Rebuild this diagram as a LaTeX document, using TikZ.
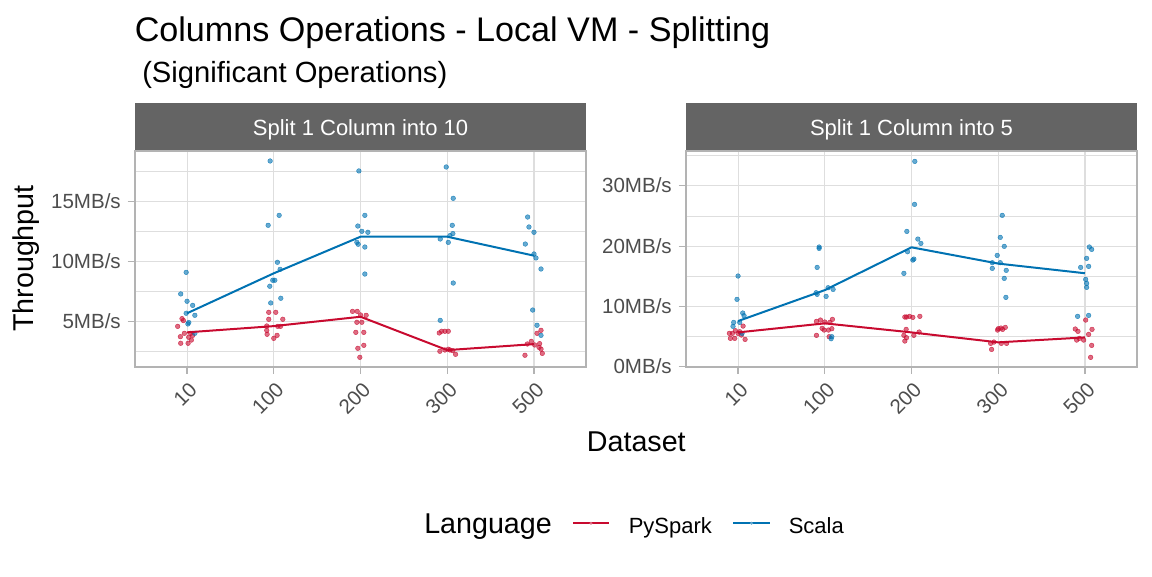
\documentclass[tikz,border=0pt]{standalone}
\usepackage{fontspec}
\setmainfont{Liberation Sans}
\usetikzlibrary{calc}
\definecolor{pyspark}{HTML}{C80A2F}
\definecolor{scala}{HTML}{0072B2}
\definecolor{stripgrey}{HTML}{646464}
\definecolor{gridgrey}{HTML}{DEDEDE}
\definecolor{framegrey}{HTML}{B3B3B3}
\definecolor{textgrey}{HTML}{4D4D4D}
\tikzset{
  major/.style={gridgrey, line width=0.8pt},
  minor/.style={gridgrey, line width=0.5pt},
  frameline/.style={framegrey, line width=1.1pt},
  tickline/.style={framegrey, line width=0.9pt},
  pts/.style={only marks, mark=*, mark size=1.75pt,
    mark options={fill=#1, fill opacity=0.6, draw opacity=0.8, line width=0.3pt}},
  meanline/.style={line width=1.5pt},
  ylab/.style={anchor=base east, inner sep=0pt, text=textgrey, font=\fontsize{15.4pt}{18pt}\selectfont},
  xlab/.style={anchor=north east, inner sep=0pt, rotate=45, text=textgrey, font=\fontsize{15.4pt}{18pt}\selectfont},
  striptext/.style={anchor=base, inner sep=0pt, text=white, font=\fontsize{16.5pt}{20pt}\selectfont},
  axtitle/.style={inner sep=0pt, font=\fontsize{21.5pt}{25pt}\selectfont},
  legtext/.style={anchor=base west, inner sep=0pt, font=\fontsize{16.5pt}{20pt}\selectfont}
}
\begin{document}
\begin{tikzpicture}[x=0.75pt, y=-0.75pt]
\useasboundingbox (0,0) rectangle (1152,576);
%titles
\node[anchor=base west, inner sep=0pt, font=\fontsize{25.6pt}{30pt}\selectfont] (title) at (134.5,41) {Columns Operations - Local VM - Splitting};
\node[anchor=base west, inner sep=0pt, font=\fontsize{21.9pt}{26pt}\selectfont] (subtitle) at (142,82.5) {(Significant Operations)};
%strips
\fill[stripgrey] (135,103) rectangle (586,151);
\fill[stripgrey] (686,103) rectangle (1137,151);
\node[striptext] (strip10) at (360.5,135.5) {Split 1 Column into 10};
\node[striptext] (strip5) at (911.5,135.5) {Split 1 Column into 5};

%panel 1: 10 columns
\begin{scope}[shift={(100.31,381.3)}, x={(65.05pt,0pt)}, y={(0pt,9pt)}]
\foreach \v in {2.5,7.5,12.5,17.5} \draw[minor] (0.4,\v) -- (5.6,\v);
\foreach \v in {5,10,15} \draw[major] (0.4,\v) -- (5.6,\v);
\foreach \i in {1,...,5} \draw[major] (\i,1.192) -- (\i,19.19);
\draw[pyspark, pts=pyspark] plot coordinates {
 (0.942,5.22) (0.958,5.06) (0.892,4.58) (0.969,4.0) (1.042,4.0) (1.065,3.83) (0.923,3.72) (1.019,3.67) (1.05,3.44) (0.927,3.17) (1.012,3.17)
 (1.942,5.75) (2.023,5.75) (1.942,5.17) (2.104,5.17) (1.919,4.61) (2.046,4.58) (2.077,4.58) (1.919,4.25) (1.923,3.92) (2.038,3.83) (2.0,3.58)
 (2.908,5.83) (2.962,5.83) (3.0,5.53) (3.065,5.5) (2.958,4.92) (3.015,4.92) (2.946,4.08) (3.038,4.08) (3.038,3.0) (2.969,2.75) (2.992,2.0)
 (3.908,4.03) (3.935,4.17) (3.973,4.17) (4.012,4.17) (3.915,2.5) (3.973,2.61) (4.031,2.61) (4.062,2.56) (4.096,2.25) (4.012,2.67)
 (4.896,2.17) (4.969,3.33) (5.035,4.0) (5.081,4.25) (5.008,3.03) (5.065,3.14) (5.081,2.69) (5.096,2.33) (4.923,3.11) (5.058,2.83)};
\draw[scala, pts=scala] plot coordinates {
 (0.927,7.28) (0.99,9.08) (1.0,6.67) (1.065,6.33) (1.09,5.5) (0.99,5.67) (1.01,4.78) (1.02,4.9) (1.09,4.0)
 (1.958,18.36) (1.935,13.0) (2.062,13.83) (2.042,9.92) (2.073,9.33) (1.988,8.42) (2.012,8.42) (1.954,7.92) (1.965,6.53) (2.081,6.92)
 (2.981,17.53) (3.05,13.83) (2.969,12.94) (3.015,12.5) (3.085,12.42) (2.958,11.58) (2.973,11.42) (3.05,11.19) (3.05,8.94)
 (3.988,17.86) (4.069,15.25) (4.058,13.0) (4.065,12.31) (4.031,12.14) (3.919,11.86) (4.012,11.58) (4.069,8.19) (3.919,5.08)
 (4.927,13.69) (4.942,12.86) (5.0,12.42) (4.9,11.44) (5.0,10.61) (5.023,10.28) (5.081,9.36) (4.985,5.94) (5.035,4.67) (5.081,3.83)};
\draw[pyspark, meanline] plot coordinates {(1,4.08) (2,4.6) (3,5.38) (4,2.6) (5,3.1)}; %pyspark
\draw[scala, meanline] plot coordinates {(1,5.67) (2,9.0) (3,12.05) (4,12.05) (5,10.47)}; %scala
\end{scope}
\draw[frameline] (135,151) rectangle (586,367);

%panel 2: 5 columns
\begin{scope}[shift={(651.31,366.7)}, x={(65.05pt,0pt)}, y={(0pt,4.5225pt)}]
\foreach \v in {5,15,25,35} \draw[minor] (0.4,\v) -- (5.6,\v);
\foreach \v in {10,20,30} \draw[major] (0.4,\v) -- (5.6,\v);
\foreach \i in {1,...,5} \draw[major] (\i,0) -- (\i,35.77);
\draw[pyspark, pts=pyspark] plot coordinates {
 (0.9,5.53) (0.969,5.97) (1.019,5.8) (1.058,6.74) (0.912,4.7) (0.962,4.7) (1.081,4.53) (1.038,5.25) (1.0,5.53) (0.935,5.53)
 (1.904,7.52) (1.95,7.74) (2.0,7.41) (2.058,7.35) (2.088,7.85) (1.969,6.36) (1.992,6.08) (2.042,6.08) (2.081,6.3) (1.904,5.2) (2.05,4.98)
 (2.923,8.24) (2.942,8.24) (2.977,8.35) (3.015,8.18) (3.096,8.35) (2.938,6.19) (2.912,5.2) (2.942,4.81) (2.923,4.26) (3.027,5.2) (3.088,5.75)
 (4.0,6.3) (4.031,6.41) (4.081,6.52) (4.05,6.19) (3.912,3.87) (3.95,4.09) (4.035,3.87) (4.096,3.87) (3.923,2.87) (3.992,6.08)
 (5.008,7.74) (4.888,6.25) (4.919,5.86) (5.081,6.19) (5.042,5.36) (4.904,4.42) (4.985,4.42) (5.077,3.54) (5.065,1.55) (4.935,4.7)};
\draw[scala, pts=scala] plot coordinates {
 (1.0,15.04) (0.988,11.17) (1.054,8.9) (1.069,8.46) (0.95,7.35) (1.019,7.35) (0.942,6.69) (1.046,5.53)
 (1.935,19.85) (1.935,19.62) (1.912,16.47) (1.9,12.27) (1.912,12.0) (2.038,13.1) (2.096,12.82) (2.015,11.66) (2.081,4.98) (2.073,4.64)
 (3.038,34.05) (3.035,26.92) (2.946,22.44) (3.073,21.17) (3.108,20.45) (2.954,19.07) (3.015,17.69) (3.027,17.85) (2.912,15.48)
 (4.046,25.1) (4.023,21.45) (4.069,19.96) (3.988,18.46) (4.023,17.25) (3.931,17.25) (3.931,16.31) (4.092,15.98) (4.069,14.65) (4.088,11.5)
 (5.05,19.85) (5.077,19.46) (5.019,17.97) (4.95,16.47) (5.042,16.64) (5.008,14.48) (5.019,13.82) (5.019,13.16) (5.042,8.51) (4.915,8.35)};
\draw[pyspark, meanline] plot coordinates {(1,5.69) (2,7.19) (3,5.69) (4,4.04) (5,4.86)}; %pyspark
\draw[scala, meanline] plot coordinates {(1,7.57) (2,12.7) (3,19.8) (4,17.1) (5,15.5)}; %scala
\end{scope}
\draw[frameline] (686,151) rectangle (1137,367);

%axes
\foreach \lab/\y in {5/321.3,10/261.3,15/201.3} {
  \draw[tickline] (127.5,\y) -- (135,\y);
  \node[ylab] (ya\lab) at (121,{\y+7}) {\lab MB/s};
}
\foreach \lab/\y in {0/366.7,10/306.4,20/246.1,30/185.8} {
  \draw[tickline] (678.5,\y) -- (686,\y);
  \node[ylab] (yb\lab) at (672,{\y+7}) {\lab MB/s};
}
\foreach \i/\lab in {1/10,2/100,3/200,4/300,5/500} {
  \draw[tickline] ({135+(\i-0.4)*86.73},367) -- ({135+(\i-0.4)*86.73},374);
  \draw[tickline] ({686+(\i-0.4)*86.73},367) -- ({686+(\i-0.4)*86.73},374);
  \node[xlab] (xa\lab) at ({136+(\i-0.4)*86.73},381) {\lab};
  \node[xlab] (xb\lab) at ({687+(\i-0.4)*86.73},381) {\lab};
}
\node[axtitle, rotate=90] (ytitle) at (26.5,258.5) {Throughput};
\node[axtitle, anchor=base] (xtitle) at (636.3,451.5) {Dataset};

%legend
\node[axtitle, anchor=base west] (legtitle) at (424,533) {Language};
\coordinate (pyA) at (573,523.3);
\coordinate (pyB) at (609,523.3);
\coordinate (scA) at (733,523.3);
\coordinate (scB) at (770,523.3);
\draw[pyspark, line width=1.5pt] (pyA) -- (pyB);
\fill[pyspark!60!white] ($(pyA)!0.5!(pyB)$) circle (1.2pt);
\node[legtext] (legpy) at (628.5,533) {PySpark};
\draw[scala, line width=1.5pt] (scA) -- (scB);
\fill[scala!60!white] ($(scA)!0.5!(scB)$) circle (1.2pt);
\node[legtext] (legsc) at (788.5,533) {Scala};
\end{tikzpicture}
\end{document}
